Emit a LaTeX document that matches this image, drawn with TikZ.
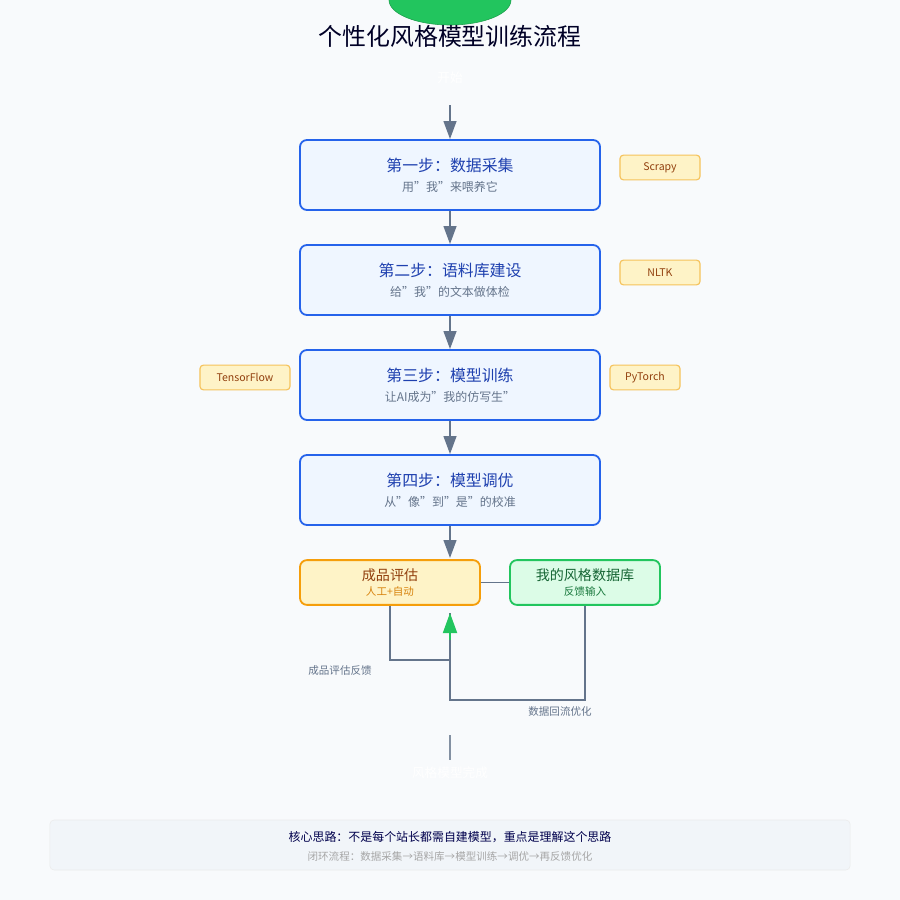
\documentclass[tikz,border=0pt]{standalone}
\usepackage{fontspec}
\setmainfont{Noto Sans CJK SC}
\usetikzlibrary{calc, shapes, arrows.meta}
\definecolor{bg}{HTML}{F8FAFC}
\definecolor{stepfill}{HTML}{EFF6FF}
\definecolor{stepdraw}{HTML}{2563EB}
\definecolor{steptext}{HTML}{1E40AF}
\definecolor{tagfill}{HTML}{FEF3C7}
\definecolor{tagdraw}{HTML}{F5C25B}
\definecolor{tagtext}{HTML}{92400E}
\definecolor{evaldraw}{HTML}{F59E0B}
\definecolor{dbfill}{HTML}{DCFCE7}
\definecolor{dbdraw}{HTML}{22C55E}
\definecolor{dbtext}{HTML}{166534}
\definecolor{arr}{HTML}{64748B}
\definecolor{note}{HTML}{F1F5F9}
\begin{document}
\begin{tikzpicture}[x=0.025cm, y=-0.025cm]

    \tikzstyle{stage}=[rectangle, rounded corners=5pt, draw=stepdraw, fill=stepfill, line width=1.3pt, minimum width=7.5cm, minimum height=1.75cm, align=center, text=steptext];
    \tikzstyle{tag}=[rectangle, rounded corners=2.5pt, draw=tagdraw, fill=tagfill, thick, minimum height=0.62cm, font=\fontsize{7.5}{9}\selectfont, text=tagtext];
    \tikzstyle{flow}=[-{Triangle[length=0.45cm, width=0.32cm]}, arr, line width=1.3pt];
    \tikzstyle{loopline}=[arr, line width=1.3pt];

    \fill[bg] (0,0) rectangle (900,900);
    \useasboundingbox (0,0) rectangle (900,900);
    \clip (0,0) rectangle (900,900);

    \node[ellipse, fill=dbdraw, draw=dbdraw!80!black, minimum width=3.05cm, minimum height=1.25cm] (start) at (450,0) {};
    \node[font=\fontsize{17}{20}\selectfont, text=black!85!blue] (title) at (450,36) {个性化风格模型训练流程};
    \node[text=white, font=\fontsize{9}{11}\selectfont] (begin) at (450,78) {开始};
    \coordinate (s) at (450,105);

    \node[stage] (1) at (450,175) {{\fontsize{11.3}{14}\selectfont 第一步：数据采集}\\[2pt]{\fontsize{8.5}{10}\selectfont\color{arr} 用"我"来喂养它}};
    \node[stage] (2) at (450,280) {{\fontsize{11.3}{14}\selectfont 第二步：语料库建设}\\[2pt]{\fontsize{8.5}{10}\selectfont\color{arr} 给"我"的文本做体检}};
    \node[stage] (3) at (450,385) {{\fontsize{11.3}{14}\selectfont 第三步：模型训练}\\[2pt]{\fontsize{8.5}{10}\selectfont\color{arr} 让AI成为"我的仿写生"}};
    \node[stage] (4) at (450,490) {{\fontsize{11.3}{14}\selectfont 第四步：模型调优}\\[2pt]{\fontsize{8.5}{10}\selectfont\color{arr} 从"像"到"是"的校准}};

    \node[tag, minimum width=2cm] (scrapy) at (660,167.5) {Scrapy};
    \node[tag, minimum width=2cm] (nltk) at (660,272.5) {NLTK};
    \node[tag, minimum width=2.25cm] (tf) at (245,377.5) {TensorFlow};
    \node[tag, minimum width=1.75cm] (pt) at (645,377.5) {PyTorch};

    \node[rectangle, rounded corners=5pt, draw=evaldraw, fill=tagfill, line width=1.3pt, minimum width=4.5cm, minimum height=1.12cm, align=center, text=tagtext] (eval) at (390,582.5) {{\fontsize{10}{12}\selectfont 成品评估}\\[-1pt]{\fontsize{7.5}{9}\selectfont\color{evaldraw!70!tagtext} 人工+自动}};
    \node[rectangle, rounded corners=5pt, draw=dbdraw, fill=dbfill, line width=1.3pt, minimum width=3.75cm, minimum height=1.12cm, align=center, text=dbtext] (db) at (585,582.5) {{\fontsize{10}{12}\selectfont 我的风格数据库}\\[-1pt]{\fontsize{7.5}{9}\selectfont\color{dbtext!80!dbdraw} 反馈输入}};

    \coordinate (merge) at (450,613);
    \coordinate (e1) at (390,660);
    \coordinate (e2) at (450,660);
    \coordinate (d1) at (585,700);
    \coordinate (d2) at (450,700);
    \coordinate (t1) at (450,735);
    \coordinate (t2) at (450,760);
    \coordinate (a5) at (450,558);

    \draw (s) edge[flow] (1);
    \draw (1) edge[flow] (2);
    \draw (2) edge[flow] (3);
    \draw (3) edge[flow] (4);
    \draw (4) edge[flow] (a5);

    \draw[arr, line width=1pt] (eval) -- (db);
    \draw[loopline] (eval.south -| e1) -- (e1) -- (e2);
    \draw[loopline] (db.south) -- (d1) -- (d2) -- (merge);
    \draw[dbdraw, -{Triangle[length=0.5cm, width=0.35cm]}, line width=1.3pt] (450,640) -- (merge);
    \draw[arr!80, line width=1pt] (t1) -- (t2);

    \node[text=arr, font=\fontsize{7.5}{9}\selectfont] (fb) at (340,671) {成品评估反馈};
    \node[text=arr, font=\fontsize{7.5}{9}\selectfont] (flowback) at (560,711) {数据回流优化};
    \node[text=white, font=\fontsize{9}{11}\selectfont] (done) at (450,773) {风格模型完成};

    \node[rectangle, rounded corners=3pt, draw=black!8, fill=note, minimum width=20cm, minimum height=1.25cm] (box) at (450,845) {};
    \node[text=black!70!blue, font=\fontsize{8.5}{10}\selectfont] (idea) at (450,837) {核心思路：不是每个站长都需自建模型，重点是理解这个思路};
    \node[text=black!35, font=\fontsize{7.5}{9}\selectfont] (loop) at (450,856) {闭环流程：数据采集→语料库→模型训练→调优→再反馈优化};
\end{tikzpicture}
\end{document}
